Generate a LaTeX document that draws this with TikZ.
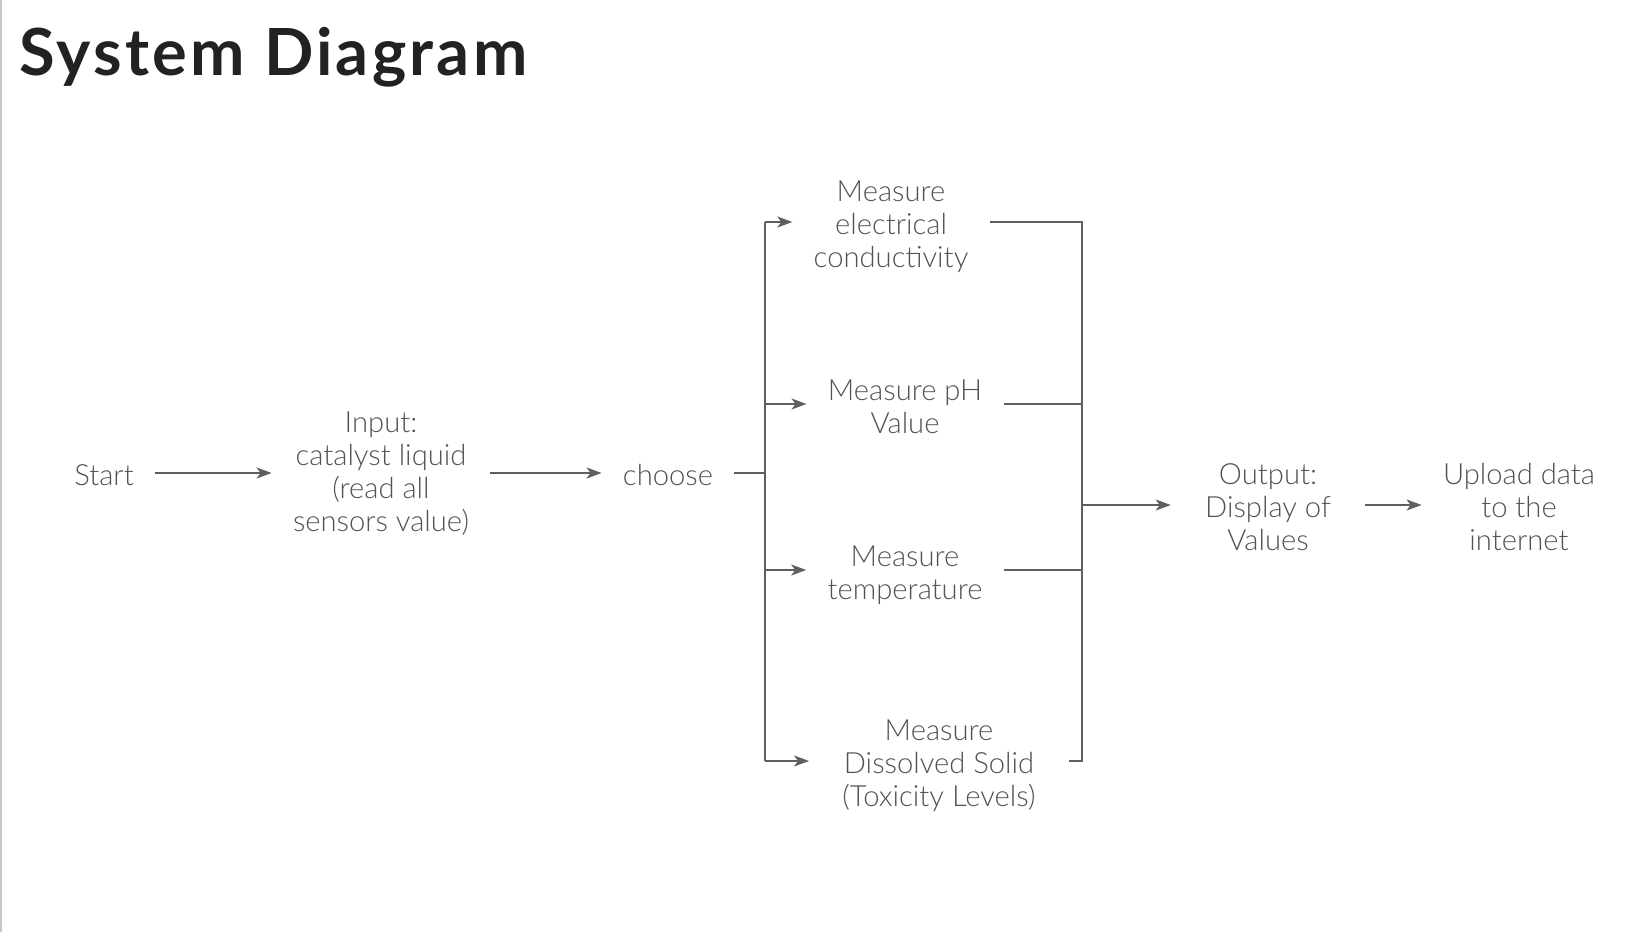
\documentclass[tikz,border=0pt]{standalone}
\usepackage{fontspec}
\setmainfont{Lato}[UprightFont=* Light,BoldFont=* Bold]
\usepackage{tikz}
\usetikzlibrary{arrows.meta,positioning,calc}
\usepackage{xcolor}
\definecolor{inkgrey}{RGB}{82,82,82}
\definecolor{wiregrey}{RGB}{95,95,95}
\definecolor{titleink}{RGB}{34,34,34}
\definecolor{edgegrey}{RGB}{200,200,200}
\newcommand{\rows}[1]{\begin{tabular}{@{}c@{}}\rule{0pt}{17.8pt}#1\end{tabular}}
\tikzset{
  stage/.style={text=inkgrey,inner ysep=0pt,inner xsep=10.5pt,
                font=\fontsize{14.6}{16.5}\selectfont},
  flow/.style={-{Stealth[length=7.5pt,width=5.5pt,inset=2pt]},draw=wiregrey,line width=1pt},
  wire/.style={draw=wiregrey,line width=1pt},
}
\begin{document}
\begin{tikzpicture}[x=0.5pt,y=-0.5pt]
  \useasboundingbox (0,0) rectangle (1638,932);
  \draw[edgegrey,line width=1.2pt] (1,0) -- (1,932);
  % the title
  \node[anchor=base west,inner sep=0pt,text=titleink,
        font=\fontsize{32.5}{36}\bfseries\addfontfeature{LetterSpace=5}\selectfont]
        (title) at (19,75) {System Diagram};
  % the main line
  \node[stage] (start)  at (104,473) {\rows{Start}};
  \node[stage] (input)  at (381,469.5) {\rows{Input:\\catalyst liquid\\(read all\\sensors value)}};
  \node[stage] (choose) at (668,473) {\rows{choose}};
  % the four measurements
  \node[stage] (ec)   at (891,222) {\rows{Measure\\electrical\\conductivity}};
  \node[stage] (ph)   at (905,404) {\rows{Measure pH\\Value}};
  \node[stage] (temp) at (905,570) {\rows{Measure\\temperature}};
  \node[stage,inner xsep=16.5pt] (tds) at (939,761) {\rows{Measure\\Dissolved Solid\\(Toxicity Levels)}};
  % the outputs
  \node[stage,inner xsep=17pt] (out) at (1268,505) {\rows{Output:\\Display of\\Values}};
  \node[stage] (upload) at (1519,505) {\rows{Upload data\\to the\\internet}};
  \coordinate (split) at (765,473);
  \coordinate (join)  at (1082,505);
  \draw[flow] (start) -- (start -| input.west);
  \draw[flow] (input.east |- choose) -- (choose);
  \draw[wire] (choose) -- (split);
  \draw[wire] (split |- ec) -- (split |- tds);
  \foreach \m in {ec,ph,temp,tds}
    \draw[flow] (split |- \m) -- (\m);
  \draw[wire] (ec) -| (join |- tds) -- (tds);
  \draw[wire] (ph) -- (join |- ph);
  \draw[wire] (temp) -- (join |- temp);
  \draw[flow] (join) -- (out);
  \draw[flow] (out) -- (upload);
\end{tikzpicture}
\end{document}
